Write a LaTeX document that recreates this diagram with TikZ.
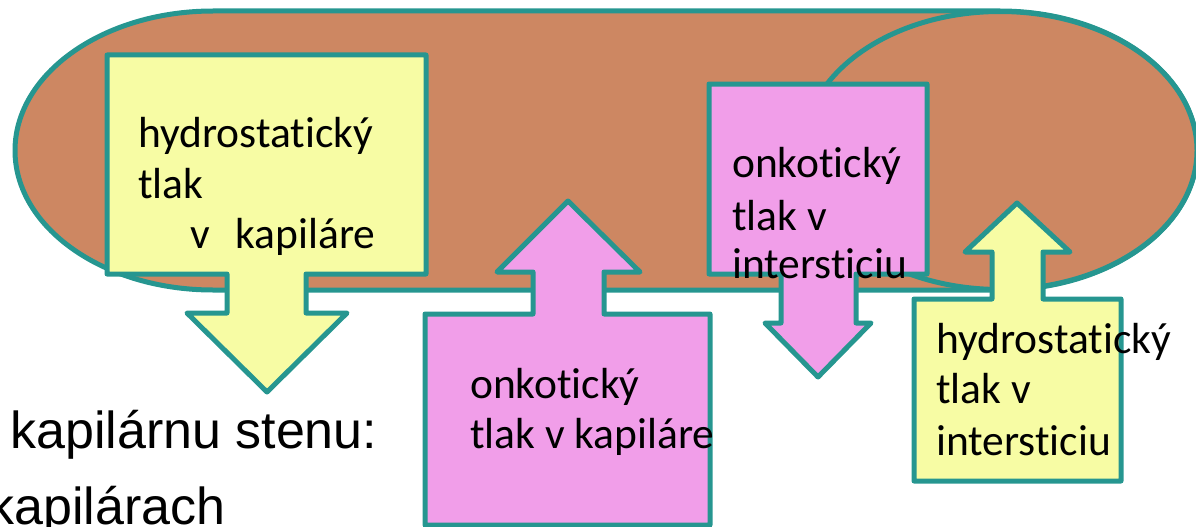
\documentclass[tikz,border=0pt]{standalone}
\usepackage{fontspec}
\setmainfont{Carlito}[Ligatures=NoCommon]
\newfontfamily\arialfont{Liberation Sans}
\definecolor{brownfill}{RGB}{205,135,98}
\definecolor{tealline}{RGB}{38,150,144}
\definecolor{yellowfill}{RGB}{247,252,164}
\definecolor{pinkfill}{RGB}{241,158,233}
\begin{document}
\begin{tikzpicture}[x=1pt,y=-1pt,
  outline/.style={draw=tealline, line width=5pt, line join=round},
  lbl/.style={anchor=base west, inner sep=0pt, font=\fontsize{43.5}{50}\selectfont},
  bgtext/.style={anchor=base west, inner sep=0pt, font=\arialfont\fontsize{52}{60}\selectfont}]
\useasboundingbox (0,0) rectangle (1196,527);
% background slide text
\node[bgtext] (bg1) at (10,448) {kapilárnu stenu:};
\node[bgtext] (bg2) at (-12,524) {kapilárach};
% capsule
\draw[outline, fill=brownfill] (213,11) -- (1000,11)
  arc[start angle=-90, end angle=90, x radius=197, y radius=139.5]
  -- (213,290)
  arc[start angle=90, end angle=270, x radius=198, y radius=139.5] -- cycle;
% right ellipse
\draw[outline, fill=brownfill] (1000,150.5) ellipse[x radius=197, y radius=139];
% box 1: yellow, down arrow
\draw[outline, fill=yellowfill] (107,55) -- (426,55) -- (426,274) -- (306,274) -- (306,313)
  -- (347,313) -- (267,392) -- (187,313) -- (227,313) -- (227,274) -- (107,274) -- cycle;
% box 2: pink, up arrow
\draw[outline, fill=pinkfill] (425,314) -- (533,314) -- (533,272) -- (497,272) -- (568,201)
  -- (640,272) -- (604,272) -- (604,314) -- (710,314) -- (710,525) -- (425,525) -- cycle;
% box 3: pink, down arrow
\draw[outline, fill=pinkfill] (709,84) -- (927,84) -- (927,274) -- (856,274) -- (856,323)
  -- (871,323) -- (818,377) -- (765,323) -- (781,323) -- (781,274) -- (709,274) -- cycle;
% box 4: yellow, up arrow
\draw[outline, fill=yellowfill] (914,299) -- (992,299) -- (992,252) -- (965,252) -- (1017,203)
  -- (1070,252) -- (1043,252) -- (1043,299) -- (1121,299) -- (1121,481) -- (914,481) -- cycle;
% labels
\node[lbl] (a1) at (138,147) {hydrostatický};
\node[lbl] (a2) at (138,198) {tlak};
\node[lbl] (a3) at (190,248) {v\hspace{26pt}kapiláre};
\node[lbl] (b1) at (470,398) {onkotický};
\node[lbl] (b2) at (470,448) {tlak v kapiláre};
\node[lbl] (c1) at (732,177) {onkotický};
\node[lbl] (c2) at (732,230) {tlak v};
\node[lbl] (c3) at (732,278) {intersticiu};
\node[lbl] (d1) at (936,353) {hydrostatický};
\node[lbl] (d2) at (936,403) {tlak v};
\node[lbl] (d3) at (936,455) {intersticiu};
\end{tikzpicture}
\end{document}
